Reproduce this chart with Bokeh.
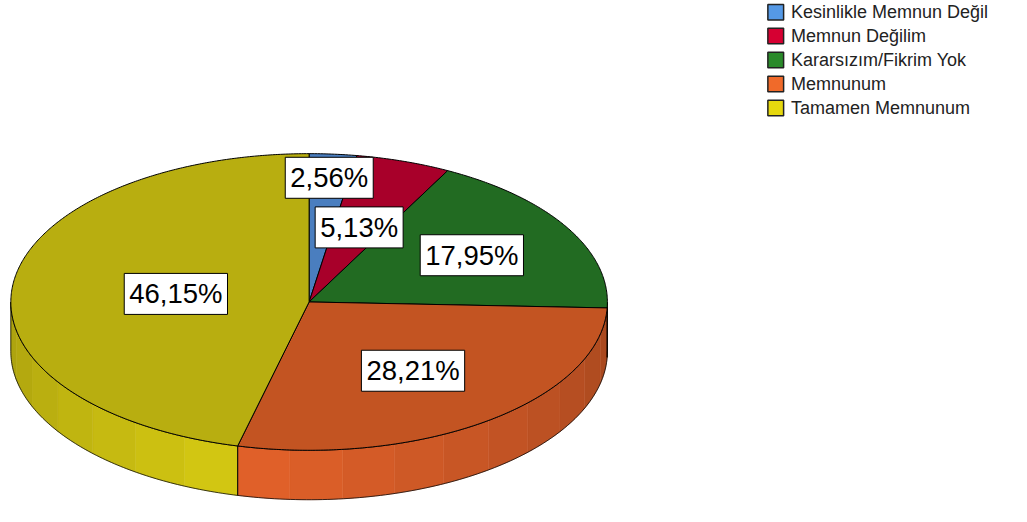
import numpy as np
from bokeh.plotting import figure
from bokeh.models import Range1d, Label, ColumnDataSource
from bokeh.embed import file_html
from bokeh.resources import INLINE
from bokeh.core.properties import value

# ---- data ----
categories = ["Kesinlikle Memnun Değil", "Memnun Değilim", "Kararsızım/Fikrim Yok",
              "Memnunum", "Tamamen Memnunum"]
percents = [2.56, 5.13, 17.95, 28.21, 46.15]
labels = ["2,56%", "5,13%", "17,95%", "28,21%", "46,15%"]

# ---- styles ----
top_colors = ["#4A7EBF", "#A8002A", "#226B22", "#C35422", "#B8AE10"]
side_colors = ["#5590D8", "#C00030", "#2A7F2A", "#E4622A", "#D4C812"]
legend_colors = ["#5599E6", "#D60032", "#2B8A2B", "#F06A2A", "#E6D80E"]
label_r = [0.84, 0.53, 0.63, 0.58, 0.45]

CX, CY, RX, RY, DEPTH = 313.5, 311.0, 303.0, 153.0, 51.0
FONT = "Liberation Sans"


def pt(theta, dy=0.0, r=1.0):
    t = np.radians(theta)
    return CX + r * RX * np.sin(t), CY - r * RY * np.cos(t) + dy


def shade(hexc, f):
    h = hexc.lstrip("#")
    rgb = [int(h[i:i + 2], 16) for i in (0, 2, 4)]
    rgb = [max(0, min(255, int(round(c * f)))) for c in rgb]
    return "#%02x%02x%02x" % tuple(rgb)


p = figure(width=1011, height=506, output_backend="svg", toolbar_location=None,
           x_range=Range1d(0, 1027), y_range=Range1d(522, 0), min_border=0)
p.axis.visible = False
p.grid.visible = False
p.outline_line_color = None
p.background_fill_color = "white"
p.border_fill_color = "white"

total = sum(percents)
bounds = [0.0]
for v in percents:
    bounds.append(bounds[-1] + v / total * 360.0)

# ---- side walls (front half: 90..270 degrees) ----
fx, fy, fc = [], [], []
ox, oy = [], []
for i in range(len(percents)):
    a0, a1 = max(bounds[i], 90.0), min(bounds[i + 1], 270.0)
    if a1 <= a0:
        continue
    n = max(1, int(np.ceil((a1 - a0) / 11.0)))
    edges = np.linspace(a0, a1, n + 1)
    for k in range(n):
        t = np.linspace(edges[k], edges[k + 1], 12)
        xt, yt = pt(t)
        xb, yb = pt(t[::-1], DEPTH)
        fx.append(list(xt) + list(xb))
        fy.append(list(yt) + list(yb))
        mid = 0.5 * (edges[k] + edges[k + 1])
        f = 1.0 - 0.0026 * abs(mid - 195.0)
        fc.append(shade(side_colors[i], f))
    t = np.linspace(a0, a1, 100)
    xt, yt = pt(t)
    xb, yb = pt(t[::-1], DEPTH)
    ox.append(list(xt) + list(xb) + [xt[0]])
    oy.append(list(yt) + list(yb) + [yt[0]])

p.patches(xs=fx, ys=fy, fill_color=fc, line_color=fc, line_width=0.5)
p.multi_line(xs=ox, ys=oy, line_color="black", line_width=1, line_alpha=0.75)

# ---- top slices ----
txs, tys = [], []
for i in range(len(percents)):
    t = np.linspace(bounds[i], bounds[i + 1], max(3, int((bounds[i + 1] - bounds[i]) * 2)))
    x, y = pt(t)
    txs.append([CX] + list(x))
    tys.append([CY] + list(y))
src = ColumnDataSource(dict(xs=txs, ys=tys, color=top_colors))
p.patches(xs="xs", ys="ys", fill_color="color", line_color="black", line_width=1, source=src)

# ---- labels ----
for i in range(len(percents)):
    mid = 0.5 * (bounds[i] + bounds[i + 1])
    lx, ly = pt(mid, 0.0, label_r[i])
    p.add_layout(Label(x=float(lx), y=float(ly), text=labels[i], text_align="center",
                       text_baseline="middle", text_font=FONT, text_font_size="27.5px",
                       text_color="black", background_fill_color="white",
                       border_line_color="black", border_line_width=1, padding=5))

# ---- legend ----
ly = [12 + 24.7 * i for i in range(len(categories))]
p.rect(x=[787.5] * len(categories), y=ly, width=16, height=16,
       fill_color=legend_colors, line_color="#222222", line_width=1.5)
p.text(x=[803] * len(categories), y=ly, text=categories, text_font=value(FONT),
       text_font_size="18px", text_baseline="middle", text_align="left", text_color="#222222")

open("out.html", "w").write(file_html(p, INLINE))
